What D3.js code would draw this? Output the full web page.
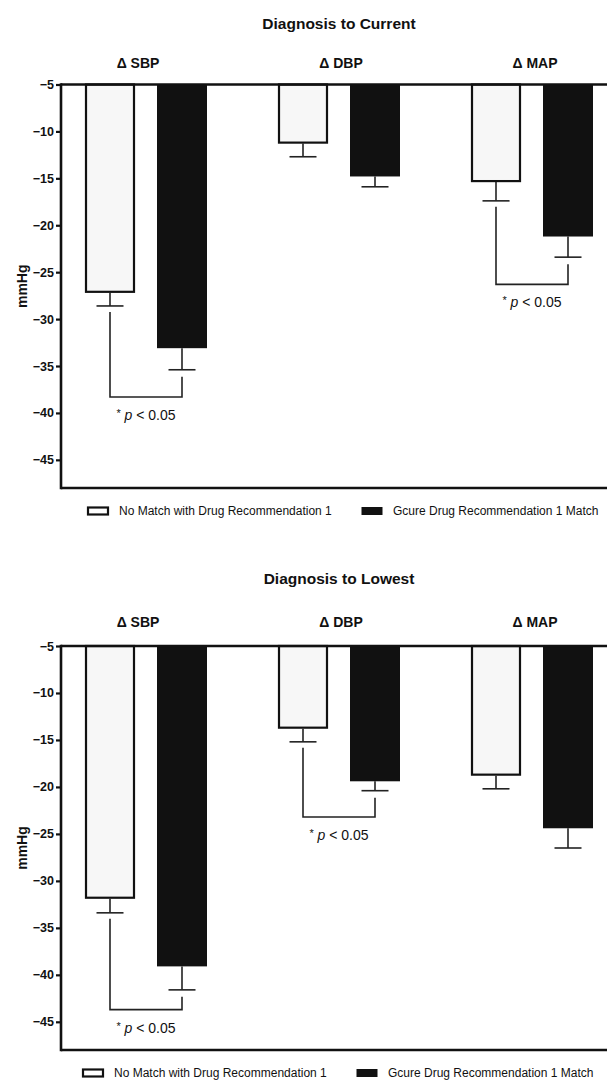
<!DOCTYPE html>
<html>
<head>
<meta charset="utf-8">
<script src="https://cdn.jsdelivr.net/npm/d3@7"></script>
<style>
  html, body { margin: 0; padding: 0; background: #fff; }
  svg { display: block; font-family: "Liberation Sans", Arial, Helvetica, sans-serif; }
</style>
</head>
<body>
<svg id="chart" width="607" height="1084"></svg>
<script>
// ---------- data ----------
const groups = ["Δ SBP", "Δ DBP", "Δ MAP"];
const seriesKeys = ["noMatch", "gcure"];
const seriesNames = ["No Match with Drug Recommendation 1", "Gcure Drug Recommendation 1 Match"];
const yTicks = [-5, -10, -15, -20, -25, -30, -35, -40, -45];
const yDomain = [-5, -48];
const yLabel = "mmHg";

// Diagnosis to Current
const currentTitle = "Diagnosis to Current";
const currentNoMatch = [-27.2, -11.3, -15.4];
const currentNoMatchSEM = [1.4, 1.4, 2.0];
const currentGcure = [-33.1, -14.8, -21.2];
const currentGcureSEM = [2.3, 1.1, 2.2];
const currentSigGroups = ["Δ SBP", "Δ MAP"];
const currentSigLevels = [-38.3, -26.3];

// Diagnosis to Lowest
const lowestTitle = "Diagnosis to Lowest";
const lowestNoMatch = [-31.9, -13.8, -18.8];
const lowestNoMatchSEM = [1.5, 1.4, 1.4];
const lowestGcure = [-39.1, -19.4, -24.4];
const lowestGcureSEM = [2.5, 1.0, 2.1];
const lowestSigGroups = ["Δ SBP", "Δ DBP"];
const lowestSigLevels = [-43.7, -23.2];

const sigText = "p < 0.05";

// ---------- drawing ----------
const svg = d3.select("#chart");
const W = 607;
const axisX = 61;

const xGroup = d3.scaleBand().domain(groups).range([49.5, 628.5]).padding(0);
const xSeries = d3.scaleBand().domain(seriesKeys).range([35.5, 157.5]).paddingInner(22 / 72).paddingOuter(0);
const fills = { noMatch: "#f7f7f7", gcure: "#111111" };

function drawChart(cfg) {
  const y = d3.scaleLinear().domain(yDomain).range([cfg.top, cfg.bottom]);
  const g = svg.append("g");

  // title
  g.append("text")
    .attr("x", 339).attr("y", cfg.top - cfg.titleOff)
    .attr("text-anchor", "middle").attr("dominant-baseline", "central")
    .attr("font-size", 15.5).attr("font-weight", "bold").attr("fill", "#111")
    .text(cfg.title);

  // group labels
  g.selectAll(".glabel").data(groups).join("text")
    .attr("x", (d, i) => xGroup(d) + xGroup.bandwidth() / 2 + [-8, 2, 3][i])
    .attr("y", cfg.top - cfg.labelOff)
    .attr("text-anchor", "middle").attr("dominant-baseline", "central")
    .attr("font-size", 14).attr("font-weight", "bold").attr("fill", "#111")
    .text(d => d);

  const rows = groups.map((grp, i) => ({
    grp,
    vals: [
      { key: "noMatch", v: cfg.noMatch[i], e: cfg.noMatchSEM[i] },
      { key: "gcure", v: cfg.gcure[i], e: cfg.gcureSEM[i] }
    ]
  }));
  const flat = rows.flatMap(r => r.vals.map(v => Object.assign({ grp: r.grp }, v)));
  const cx = d => xGroup(d.grp) + xSeries(d.key) + xSeries.bandwidth() / 2;

  // error bars (behind bars)
  g.selectAll(".err").data(flat).join("line")
    .attr("x1", cx).attr("x2", cx)
    .attr("y1", d => y(d.v)).attr("y2", d => y(d.v - d.e))
    .attr("stroke", "#222").attr("stroke-width", 1.6);
  g.selectAll(".cap").data(flat).join("line")
    .attr("x1", d => cx(d) - 13.5).attr("x2", d => cx(d) + 13.5)
    .attr("y1", d => y(d.v - d.e)).attr("y2", d => y(d.v - d.e))
    .attr("stroke", "#222").attr("stroke-width", 1.6);

  // bars
  g.selectAll(".bar").data(flat).join("rect")
    .attr("x", d => xGroup(d.grp) + xSeries(d.key) + (d.key === "noMatch" ? 1 : 0))
    .attr("width", d => xSeries.bandwidth() - (d.key === "noMatch" ? 2 : 0))
    .attr("y", y(-5))
    .attr("height", d => y(d.v) - y(-5) - (d.key === "noMatch" ? 1 : 0))
    .attr("fill", d => fills[d.key])
    .attr("stroke", d => d.key === "noMatch" ? "#111" : "none")
    .attr("stroke-width", 2.2);

  // significance brackets
  cfg.sigGroups.forEach((grp, i) => {
    const lvl = y(cfg.sigLevels[i]);
    const r = rows.find(rr => rr.grp === grp);
    const a = Object.assign({ grp }, r.vals[0]);
    const b = Object.assign({ grp }, r.vals[1]);
    const ya = y(a.v - a.e) + 6;
    const yb = y(b.v - b.e) + 7;
    g.append("path")
      .attr("d", `M${cx(a)},${ya}V${lvl}H${cx(b)}V${yb}`)
      .attr("fill", "none").attr("stroke", "#222").attr("stroke-width", 1.6);
    const t = g.append("text")
      .attr("x", (cx(a) + cx(b)) / 2).attr("y", lvl + 18)
      .attr("text-anchor", "middle").attr("dominant-baseline", "central")
      .attr("font-size", 14).attr("fill", "#111");
    t.append("tspan").attr("font-size", 11).attr("dy", -2).text("*");
    t.append("tspan").attr("dy", 2).text(" ");
    t.append("tspan").attr("font-style", "italic").text(sigText.split(" ")[0]);
    t.append("tspan").text(" " + sigText.split(" ").slice(1).join(" "));
  });

  // axes frame lines
  g.append("line").attr("x1", axisX).attr("x2", W).attr("y1", y(-5)).attr("y2", y(-5))
    .attr("stroke", "#111").attr("stroke-width", 2.6);
  g.append("line").attr("x1", axisX).attr("x2", W).attr("y1", cfg.bottom).attr("y2", cfg.bottom)
    .attr("stroke", "#111").attr("stroke-width", 2.6);

  // y axis
  const ax = g.append("g").attr("transform", `translate(${axisX},0)`)
    .call(d3.axisLeft(y).tickValues(yTicks).tickSize(5).tickPadding(2).tickFormat(d3.format("d")));
  ax.select(".domain").attr("d", `M0,${cfg.top - 1.3}V${cfg.bottom + 1.3}`)
    .attr("stroke", "#111").attr("stroke-width", 2.6);
  ax.selectAll(".tick line").attr("stroke", "#111").attr("stroke-width", 2.2);
  ax.selectAll(".tick text").attr("font-size", 12.5).attr("font-weight", "bold")
    .attr("fill", "#111").attr("font-family", "'Liberation Sans', Arial, sans-serif");

  // y label
  g.append("text")
    .attr("transform", `translate(22,${(cfg.top + cfg.bottom) / 2}) rotate(-90)`)
    .attr("text-anchor", "middle").attr("dominant-baseline", "central")
    .attr("font-size", 14).attr("font-weight", "bold").attr("fill", "#111")
    .text(yLabel);

  // legend
  const ly = cfg.bottom + 23;
  const legX = [cfg.legX, cfg.legX + 274];
  seriesKeys.forEach((k, i) => {
    g.append("rect")
      .attr("x", legX[i] + 1).attr("y", ly - 3.5).attr("width", 20).attr("height", 7)
      .attr("fill", k === "noMatch" ? "#fff" : "#111")
      .attr("stroke", "#111").attr("stroke-width", k === "noMatch" ? 2.2 : 1);
    g.append("text")
      .attr("x", legX[i] + 32).attr("y", ly)
      .attr("dominant-baseline", "central")
      .attr("font-size", 12).attr("fill", "#111")
      .text(seriesNames[i]);
  });
}

drawChart({
  title: currentTitle, top: 84.5, bottom: 488, titleOff: 61, labelOff: 22, legX: 87,
  noMatch: currentNoMatch, noMatchSEM: currentNoMatchSEM,
  gcure: currentGcure, gcureSEM: currentGcureSEM,
  sigGroups: currentSigGroups, sigLevels: currentSigLevels
});
drawChart({
  title: lowestTitle, top: 646, bottom: 1050, titleOff: 68, labelOff: 24, legX: 82,
  noMatch: lowestNoMatch, noMatchSEM: lowestNoMatchSEM,
  gcure: lowestGcure, gcureSEM: lowestGcureSEM,
  sigGroups: lowestSigGroups, sigLevels: lowestSigLevels
});
</script>
</body>
</html>
